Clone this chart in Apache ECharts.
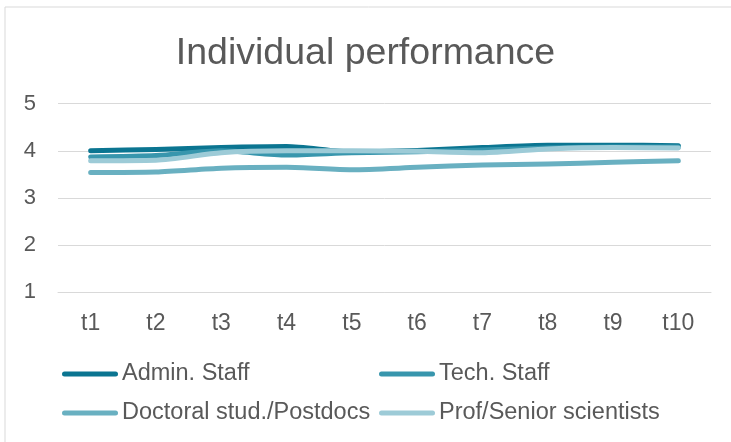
<!DOCTYPE html>
<html><head><meta charset="utf-8">
<script src="https://cdn.jsdelivr.net/npm/echarts@6/dist/echarts.min.js"></script>
<style>html,body{margin:0;padding:0;background:#fff}#c{width:731px;height:442px}</style>
</head><body><div id="c"></div>
<script>
const categories = ['t1','t2','t3','t4','t5','t6','t7','t8','t9','t10'];
const seriesNames = ['Admin. Staff','Tech. Staff','Doctoral stud./Postdocs','Prof/Senior scientists'];
const adminStaff = [4.00, 4.03, 4.07, 4.09, 3.98, 4.01, 4.07, 4.12, 4.12, 4.11];
const techStaff = [3.87, 3.90, 4.00, 3.91, 3.96, 3.98, 4.02, 4.06, 4.08, 4.08];
const doctoral = [3.54, 3.55, 3.63, 3.65, 3.60, 3.65, 3.70, 3.72, 3.76, 3.79];
const profSenior = [3.79, 3.80, 3.96, 4.00, 4.00, 3.99, 3.96, 4.04, 4.07, 4.06];
const yTicks = [1, 2, 3, 4, 5];

const colors = ['#0B7591', '#3896AD', '#69B0C1', '#9DCBD7'];
const values = [adminStaff, techStaff, doctoral, profSenior];
const font = '"Liberation Sans", Arial, sans-serif';
const pill = 'path://M2.5,0 L53.5,0 A2.5,2.5 0 0 1 53.5,5 L2.5,5 A2.5,2.5 0 0 1 2.5,0 Z';
const legendPos = [[62, 362], [379, 362], [62, 401], [379, 401]];

const chart = echarts.init(document.getElementById('c'), null, {renderer: 'canvas'});
chart.setOption({
  animation: false,
  backgroundColor: '#fff',
  graphic: [{type: 'rect', shape: {x: 5, y: 7, width: 760, height: 480},
    style: {fill: 'none', stroke: '#D9D9D9', lineWidth: 1}, silent: true}],
  title: {text: 'Individual performance', left: 'center', top: 30,
    textStyle: {fontFamily: font, fontSize: 37.5, fontWeight: 'normal', color: '#595959'}},
  legend: seriesNames.map((n, i) => ({
    data: [n], left: legendPos[i][0], top: legendPos[i][1], icon: pill,
    itemWidth: 56, itemHeight: 5, itemGap: 0, padding: 0, selectedMode: false,
    textStyle: {fontFamily: font, fontSize: 23.5, color: '#595959', padding: [0,0,0,-1]}
  })),
  grid: {left: 58, right: 20, top: 103.7, bottom: 149.7, containLabel: false},
  xAxis: {type: 'category', data: categories, boundaryGap: true,
    axisLine: {show: true, lineStyle: {color: '#D9D9D9', width: 1}},
    axisTick: {show: false},
    axisLabel: {fontFamily: font, fontSize: 23, color: '#595959', margin: 20}},
  yAxis: {type: 'value', min: yTicks[0], max: yTicks[yTicks.length-1], interval: 1,
    axisLine: {show: false}, axisTick: {show: false},
    splitLine: {lineStyle: {color: '#D9D9D9', width: 1}},
    axisLabel: {fontFamily: font, fontSize: 22, color: '#595959', margin: 22}},
  series: seriesNames.map((n, i) => ({
    name: n, type: 'line', data: values[i], smooth: 0.25, symbol: 'none',
    color: colors[i],
    lineStyle: {width: 5, color: colors[i], cap: 'round', join: 'round'}
  }))
});
</script></body></html>
